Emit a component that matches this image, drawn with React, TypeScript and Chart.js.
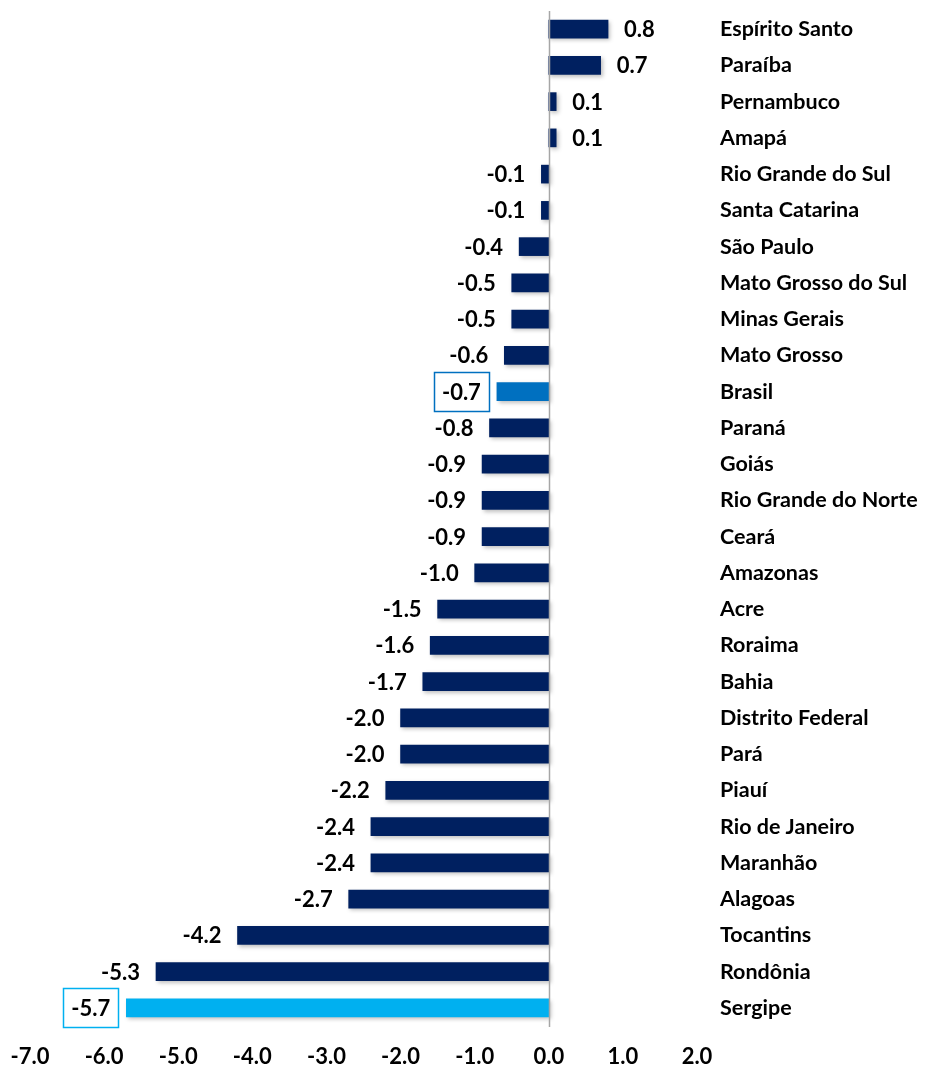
import React, { useEffect, useRef } from "react";
import { Chart, registerables } from "chart.js";

Chart.register(...registerables);

const categories = [
  "Espírito Santo", "Paraíba", "Pernambuco", "Amapá", "Rio Grande do Sul",
  "Santa Catarina", "São Paulo", "Mato Grosso do Sul", "Minas Gerais", "Mato Grosso",
  "Brasil", "Paraná", "Goiás", "Rio Grande do Norte", "Ceará",
  "Amazonas", "Acre", "Roraima", "Bahia", "Distrito Federal",
  "Pará", "Piauí", "Rio de Janeiro", "Maranhão", "Alagoas",
  "Tocantins", "Rondônia", "Sergipe",
];

const values = [
  0.8, 0.7, 0.1, 0.1, -0.1,
  -0.1, -0.4, -0.5, -0.5, -0.6,
  -0.7, -0.8, -0.9, -0.9, -0.9,
  -1.0, -1.5, -1.6, -1.7, -2.0,
  -2.0, -2.2, -2.4, -2.4, -2.7,
  -4.2, -5.3, -5.7,
];

const highlighted: Record<string, string> = {
  Brasil: "#0070C0",
  Sergipe: "#00B0F0",
};

const xTicks = [-7, -6, -5, -4, -3, -2, -1, 0, 1, 2];

const NAVY = "#002060";
const FONT = "Lato, 'Open Sans', sans-serif";

export default function App() {
  const canvasRef = useRef<HTMLCanvasElement | null>(null);

  useEffect(() => {
    if (!canvasRef.current) return;

    const shadowPlugin = {
      id: "barShadow",
      beforeDatasetsDraw(chart: any) {
        const ctx = chart.ctx;
        ctx.save();
        ctx.shadowColor = "rgba(0,0,0,0.25)";
        ctx.shadowBlur = 4;
        ctx.shadowOffsetX = 2;
        ctx.shadowOffsetY = 2;
      },
      afterDatasetsDraw(chart: any) {
        chart.ctx.restore();
      },
    };

    const labelPlugin = {
      id: "valueLabels",
      afterDatasetsDraw(chart: any) {
        const ctx = chart.ctx;
        const meta = chart.getDatasetMeta(0);
        const area = chart.chartArea;
        const xScale = chart.scales.x;
        // zero line
        ctx.save();
        ctx.strokeStyle = "#A6A6A6";
        ctx.lineWidth = 1.5;
        const x0 = Math.round(xScale.getPixelForValue(0)) + 0.5;
        ctx.beginPath();
        ctx.moveTo(x0, area.top);
        ctx.lineTo(x0, area.bottom + 1);
        ctx.stroke();

        ctx.font = `bold 22px ${FONT}`;
        ctx.fillStyle = "#000000";
        ctx.textBaseline = "middle";
        meta.data.forEach((bar: any, i: number) => {
          const v = values[i];
          const txt = v.toFixed(1);
          const end = bar.x;
          const y = bar.y;
          const boxColor = highlighted[categories[i]];
          if (boxColor) {
            const w = 55;
            const h = 39;
            const right = end - 8;
            const left = right - w;
            ctx.strokeStyle = boxColor;
            ctx.lineWidth = 1.5;
            ctx.strokeRect(Math.round(left) + 0.5, Math.round(y - h / 2) + 0.5, w, h);
            ctx.textAlign = "center";
            ctx.fillText(txt, left + w / 2, y + 1);
          } else if (v < 0) {
            ctx.textAlign = "right";
            ctx.fillText(txt, end - 16, y + 1);
          } else {
            ctx.textAlign = "left";
            ctx.fillText(txt, end + 16, y + 1);
          }
        });
        ctx.restore();
      },
    };

    const chart = new Chart(canvasRef.current, {
      type: "bar",
      data: {
        labels: categories,
        datasets: [
          {
            data: values,
            backgroundColor: categories.map((c) => highlighted[c] || NAVY),
            barThickness: 18,
            borderWidth: 0,
          },
        ],
      },
      options: {
        indexAxis: "y",
        animation: false,
        responsive: false,
        maintainAspectRatio: false,
        layout: { padding: { left: 22, top: 3, right: 0, bottom: 0 } },
        plugins: {
          legend: { display: false },
          tooltip: { enabled: false },
        },
        scales: {
          x: {
            type: "linear",
            min: -7,
            max: 2,
            afterBuildTicks: (scale: any) => {
              scale.ticks = xTicks.map((v) => ({ value: v }));
            },
            afterFit: (scale: any) => {
              scale.height = 42;
              scale.paddingLeft = 0;
              scale.paddingRight = 0;
            },
            grid: { display: false, drawTicks: false },
            border: { display: false },
            ticks: {
              padding: 18,
              color: "#000000",
              font: { family: FONT, size: 22, weight: "bold" },
              callback: (v: any) => Number(v).toFixed(1),
              maxRotation: 0,
            },
          },
          y: {
            position: "right",
            afterFit: (scale: any) => {
              scale.width = 222;
              scale.paddingTop = 0;
              scale.paddingBottom = 0;
            },
            grid: { display: false, drawTicks: false },
            border: { display: false },
            ticks: {
              padding: 23,
              color: "#000000",
              font: { family: FONT, size: 21.5, weight: "bold" },
              autoSkip: false,
            },
          },
        },
      },
      plugins: [shadowPlugin, labelPlugin],
    });

    return () => chart.destroy();
  }, []);

  return (
    <div style={{ width: 911, height: 1060 }}>
      <canvas ref={canvasRef} width={911} height={1060} style={{ display: "block" }} />
    </div>
  );
}
